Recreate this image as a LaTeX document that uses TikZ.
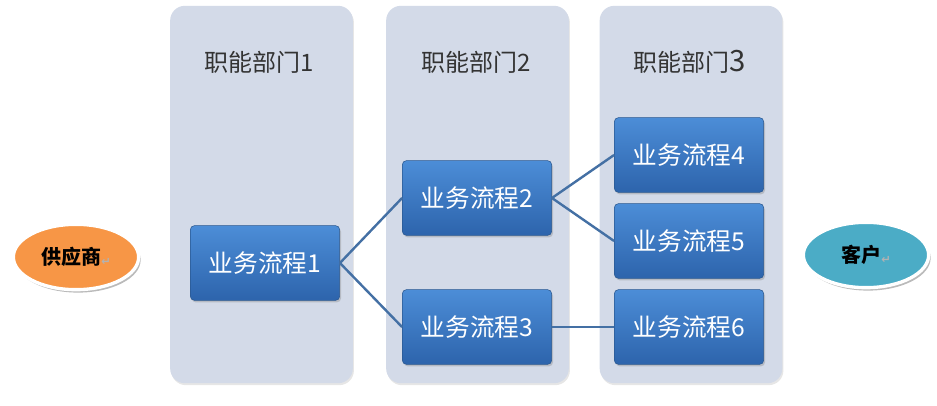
\documentclass[tikz,border=0pt]{standalone}
\usepackage{fontspec}
\setmainfont{Noto Sans CJK SC}
\newfontfamily\symfont{DejaVu Sans}
\usetikzlibrary{shapes.geometric, shadows}

\definecolor{deptfill}{HTML}{D3DAE8}
\definecolor{proctop}{HTML}{4C8DD7}
\definecolor{procbottom}{HTML}{2D64AC}
\definecolor{procborder}{HTML}{2A5890}
\definecolor{linkblue}{HTML}{4470A4}
\definecolor{supplierorange}{HTML}{F79646}
\definecolor{customerteal}{HTML}{4BACC6}
\newcommand{\retmark}{{\symfont\fontsize{8.5}{8.5}\selectfont\color{gray!60}\raisebox{-1pt}{↵}}}

\tikzset{
  dept/.style={fill=deptfill, rounded corners=11pt, minimum width=137pt,
    minimum height=283pt, inner sep=0pt,
    drop shadow={shadow xshift=0.8pt, shadow yshift=-1.5pt, opacity=0.2}},
  head/.style={text=black!80, font=\fontsize{18}{20}\selectfont},
  proc/.style={draw=procborder, rounded corners=3pt, top color=proctop,
    bottom color=procbottom, text=white, minimum width=112pt,
    minimum height=56pt, font=\fontsize{18.5}{20}\selectfont,
    drop shadow={shadow xshift=1pt, shadow yshift=-1.5pt, opacity=0.35}},
  party/.style={ellipse, draw=white, line width=2.5pt, minimum width=94pt,
    minimum height=49pt, font=\bfseries\fontsize{15}{17}\selectfont,
    drop shadow={shadow xshift=1.5pt, shadow yshift=-2.2pt, opacity=0.45,
      fill=black!60}},
  link/.style={draw=linkblue, line width=1.8pt}
}

\begin{document}
\begin{tikzpicture}[x=0.75pt, y=-0.75pt]
  \useasboundingbox (0,0) rectangle (937,406);
  % departments
  \node[dept] (dept1) at (261.5,194.5) {};
  \node[dept] (dept2) at (477.5,194.5) {};
  \node[dept] (dept3) at (691,194.5) {};
  \node[head] (head1) at (259,62) {职能部门1};
  \node[head] (head2) at (476,62) {职能部门2};
  \node[head] (head3) at (690,62) {职能部门{\fontsize{22}{22}\selectfont 3}};
  % processes
  \node[proc] (proc1) at (265,263) {业务流程1};
  \node[proc] (proc2) at (477,198) {业务流程2};
  \node[proc] (proc3) at (477,327) {业务流程3};
  \node[proc] (proc4) at (689,155) {业务流程4};
  \node[proc] (proc5) at (689,241) {业务流程5};
  \node[proc] (proc6) at (689,327) {业务流程6};
  % ends
  \node[party, fill=supplierorange] (supplier) at (76,257) {供应商\retmark};
  \node[party, fill=customerteal] (customer) at (866,255) {客户\retmark};
  \path[link]
    (proc1.east) edge (proc2.west)
    (proc1.east) edge (proc3.west)
    (proc2.east) edge (proc4.west)
    (proc2.east) edge (proc5.west)
    (proc3.east) edge (proc6.west);
\end{tikzpicture}
\end{document}
